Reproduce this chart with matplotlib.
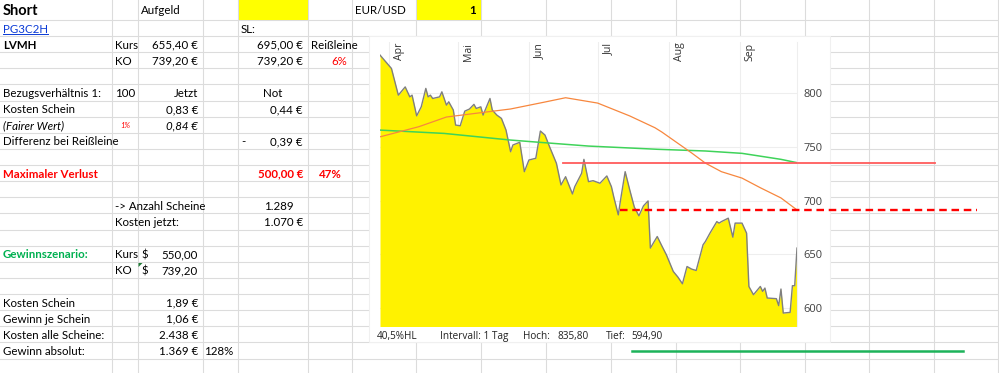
import numpy as np
import matplotlib.pyplot as plt
from matplotlib.patches import Rectangle, Polygon

# ---- chart data (LVMH daily, 2024), x = days counted from 1 April ----
day = [-4, 1, 4, 7, 9, 10, 12, 14, 16, 17,
       18, 19, 22, 23, 25, 26, 28, 29, 31, 33,
       35, 37, 38, 40, 41, 44, 45, 47, 49, 51,
       53, 54, 57, 59, 61, 64, 66, 68, 70, 73,
       75, 77, 80, 81, 84, 85, 87, 89, 92, 95,
       97, 98, 100, 101, 103, 105, 107, 109, 111, 113,
       114, 117, 119, 121, 124, 126, 128, 130, 132, 134,
       137, 138, 140, 143, 144, 145, 148, 150, 151, 154,
       156, 157, 159, 162, 163, 164, 165, 169, 170, 171,
       172, 175, 176, 177, 178]
close = [835.8, 823.3, 798.4, 806.1, 796.8, 798.4, 779.1, 787.5, 804.7, 796.8,
         798.4, 795.3, 796.8, 801.5, 789.1, 792.2, 784.5, 770.5, 769.8, 783.5,
         785.4, 789.8, 786.0, 787.5, 779.8, 795.3, 784.5, 779.8, 776.7, 765.8,
         745.6, 751.9, 754.4, 727.0, 737.9, 739.5, 764.9, 761.2, 750.3, 734.8,
         714.6, 722.3, 706.2, 713.0, 725.5, 738.5, 717.7, 718.6, 716.2, 723.0,
         713.0, 703.7, 686.7, 700.7, 727.0, 710.0, 693.9, 685.8, 695.1, 699.7,
         655.7, 666.5, 657.8, 649.4, 633.9, 628.7, 622.4, 638.5, 636.1, 634.8,
         658.8, 661.8, 669.6, 680.4, 679.0, 680.4, 683.6, 665.9, 679.0, 679.0,
         669.6, 619.9, 612.2, 619.9, 615.3, 618.4, 609.1, 608.5, 602.0, 617.5,
         595.1, 595.7, 620.6, 620.6, 655.7]

avg_a_day = [-4, 13, 25, 38, 53, 68, 77, 91, 105, 116, 119, 132, 138, 145, 154, 162, 171, 178]
avg_a = [759.5, 769.0, 778.0, 781.5, 785.5, 792.0, 796.0, 791.0, 779.0, 768.0,
         764.0, 744.5, 735.0, 727.0, 721.0, 712.0, 702.5, 691.3]

avg_b_day = [-4, 24, 53, 68, 87, 117, 138, 154, 171, 178]
avg_b = [765.8, 762.7, 756.5, 754.0, 750.9, 747.9, 746.3, 744.1, 738.5, 735.4]

months = ['Apr', 'Mai', 'Jun', 'Jul', 'Aug', 'Sep']
month_start = ['2024-04-01', '2024-05-01', '2024-06-01', '2024-07-01', '2024-08-01', '2024-09-01']
yticks = [600, 650, 700, 750, 800]

ko_level = 735      # red line drawn over the chart
sl_level = 691      # red dashed line (stop loss)
target_level = 560  # green line below the chart

footer = ['40,5%HL', 'Intervall: 1 Tag', 'Hoch:', '835,80', 'Tief:', '594,90']

# ---- spreadsheet cells: (row, column, text, align, style) ----
cells = [
    (0, 'A', 'Short', 'l', 'title'),
    (0, 'C', 'Aufgeld', 'l', ''),
    (0, 'G', 'EUR/USD', 'l', ''),
    (0, 'H', '1', 'r', 'bold'),
    (1, 'A', 'PG3C2H', 'l', 'link'),
    (1, 'E', 'SL:', 'l', ''),
    (2, 'A', 'LVMH', 'l', 'bold'),
    (2, 'B', 'Kurs', 'l', ''),
    (2, 'C', '655,40 €', 'r', ''),
    (2, 'E', '695,00 €', 'r', ''),
    (2, 'F', 'Reißleine', 'l', ''),
    (3, 'B', 'KO', 'l', ''),
    (3, 'C', '739,20 €', 'r', ''),
    (3, 'E', '739,20 €', 'r', ''),
    (3, 'F', '6%', 'r', 'red'),
    (5, 'A', 'Bezugsverhältnis 1:', 'l', ''),
    (5, 'B', '100', 'l', ''),
    (5, 'C', 'Jetzt', 'r', ''),
    (5, 'E', 'Not', 'c', ''),
    (6, 'A', 'Kosten Schein', 'l', ''),
    (6, 'C', '0,83 €', 'r', ''),
    (6, 'E', '0,44 €', 'r', ''),
    (7, 'A', '(Fairer Wert)', 'l', 'italic'),
    (7, 'B', '1%', 'c', 'small'),
    (7, 'C', '0,84 €', 'r', 'italic'),
    (8, 'A', 'Differenz bei Reißleine', 'l', ''),
    (8, 'E', '-', 'l', ''),
    (8, 'E', '0,39 €', 'r', ''),
    (10, 'A', 'Maximaler Verlust', 'l', 'redbold'),
    (10, 'E', '500,00 €', 'r', 'redbold'),
    (10, 'F', '47%', 'c', 'redbold'),
    (12, 'B', '-> Anzahl Scheine', 'l', ''),
    (12, 'E', '1.289', 'r2', ''),
    (13, 'B', 'Kosten jetzt:', 'l', ''),
    (13, 'E', '1.070 €', 'r', ''),
    (15, 'A', 'Gewinnszenario:', 'l', 'green'),
    (15, 'B', 'Kurs', 'l', ''),
    (15, 'C', '$', 'l', ''),
    (15, 'C', '550,00', 'r', ''),
    (16, 'B', 'KO', 'l', ''),
    (16, 'C', '$', 'l', ''),
    (16, 'C', '739,20', 'r', ''),
    (18, 'A', 'Kosten Schein', 'l', ''),
    (18, 'C', '1,89 €', 'r', ''),
    (19, 'A', 'Gewinn je Schein', 'l', ''),
    (19, 'C', '1,06 €', 'r', ''),
    (20, 'A', 'Kosten alle Scheine:', 'l', ''),
    (20, 'C', '2.438 €', 'r', ''),
    (21, 'A', 'Gewinn absolut:', 'l', ''),
    (21, 'C', '1.369 €', 'r', ''),
    (21, 'D', '128%', 'r', ''),
]

# ---- layout in pixels ----
W, H = 999, 373
col_edges = [0, 112, 138, 203, 238, 308, 352, 416, 481, 546, 611, 676, 740, 805, 869, 934, 998]
col_names = 'ABCDEFGHIJKLMNOP'
row_h = 16.12
row_top = [0] + [20 + row_h * j for j in range(22)]

fig = plt.figure(figsize=(W / 100, H / 100), dpi=100)
bg = fig.add_axes([0, 0, 1, 1])
bg.set_xlim(0, W)
bg.set_ylim(H, 0)
bg.axis('off')

gridc = '#dcdcdc'
for x in col_edges[1:]:
    bg.plot([x, x], [0, H], color=gridc, lw=0.8, zorder=1)
for y in row_top[1:]:
    bg.plot([0, W], [y, y], color=gridc, lw=0.8, zorder=1)

# yellow cells
for c in ['E', 'H']:
    i = col_names.index(c)
    bg.add_patch(Rectangle((col_edges[i] + 0.5, 0), col_edges[i + 1] - col_edges[i] - 1, 19.5,
                           facecolor='#ffff00', edgecolor='none', zorder=2))

# comment marker in C16
bg.add_patch(Polygon([[138.5, 263], [142.5, 263], [138.5, 267]], closed=True,
                     facecolor='#1f7a36', edgecolor='none', zorder=2))

# chart object background
bg.add_patch(Rectangle((369, 35.5), 461, 306.5, facecolor='white', edgecolor='#f0f0f0',
                       lw=0.8, zorder=3))

font = 'Lato'
styles = {
    '': dict(),
    'title': dict(fontsize=10.5, fontweight='bold'),
    'bold': dict(fontweight='bold'),
    'link': dict(color='#0b3bd6'),
    'red': dict(color='#ff0000'),
    'redbold': dict(color='#ff0000', fontweight='bold'),
    'green': dict(color='#00b050', fontweight='bold'),
    'italic': dict(style='italic'),
    'small': dict(color='#ff0000', style='italic', fontsize=5.5),
}

link_text = None
for row, col, text, align, st in cells:
    i = col_names.index(col)
    x0, x1 = col_edges[i], col_edges[i + 1]
    yc = (row_top[row] + row_top[row + 1]) / 2 + 1
    kw = dict(fontsize=8.3, color='black', family=font)
    kw.update(styles[st])
    if align == 'l':
        t = bg.text(x0 + 3, yc, text, ha='left', va='center', zorder=4, **kw)
    elif align == 'r':
        t = bg.text(x1 - 5, yc, text, ha='right', va='center', zorder=4, **kw)
    elif align == 'r2':
        t = bg.text(x1 - 14, yc, text, ha='right', va='center', zorder=4, **kw)
    else:
        t = bg.text((x0 + x1) / 2, yc, text, ha='center', va='center', zorder=4, **kw)
    if st == 'link':
        link_text = t

# ---- price chart ----
left, right, top, bottom = 380, 797, 42, 326
ax = fig.add_axes([left / W, 1 - bottom / H, (right - left) / W, (bottom - top) / H])
start = np.datetime64('2024-04-01')
dates = start + np.array(day)
dates_a = start + np.array(avg_a_day)
dates_b = start + np.array(avg_b_day)
mdates_ticks = np.array(month_start, dtype='datetime64[D]')

ax.fill_between(dates, close, 500, color='#fff200', lw=0, zorder=2)
ax.plot(dates, close, color='#7f7f7f', lw=1.0, zorder=3)
ax.plot(dates_b, avg_b, color='#3fd35a', lw=1.1, zorder=4)
ax.plot(dates_a, avg_a, color='#f7873e', lw=0.9, zorder=4)

ax.set_xlim(dates[0], dates[-1])
ax.set_ylim(583, 848)
ax.set_xticks(mdates_ticks)
ax.set_yticks(yticks)
ax.tick_params(axis='x', length=0, labelbottom=False)
ax.yaxis.tick_right()
ax.tick_params(axis='y', length=0, pad=4.5, labelsize=8, labelcolor='#404040')
for lab in ax.get_yticklabels():
    lab.set_family('Open Sans')
ax.grid(True, color='#eeeeee', lw=0.8, zorder=1)
ax.set_axisbelow(True)
for s in ax.spines.values():
    s.set_visible(False)
ax.spines['right'].set_visible(True)
ax.spines['right'].set_color('#eeeeee')

for m, lab in zip(mdates_ticks, months):
    ax.annotate(lab, xy=(m, 1), xycoords=('data', 'axes fraction'), xytext=(3.5, -0.5),
                textcoords='offset points', rotation=90, ha='left', va='top',
                fontsize=7.6, family='Open Sans', color='#333333', zorder=5)

# drawn lines over the chart (extend into the sheet)
ax.axhline(ko_level, xmin=0.439, xmax=1.331, color='#ff5c5c', lw=1.3, clip_on=False, zorder=6)
ax.axhline(sl_level, xmin=0.576, xmax=1.432, color='#ff0000', lw=1.7,
           dashes=(3.2, 2.0), clip_on=False, zorder=6)
ax.axhline(target_level, xmin=0.604, xmax=1.398, color='#1db35a', lw=1.8, clip_on=False, zorder=6)

# chart footer
footer_x = [377, 440, 523, 557, 606, 631]
for x, txt in zip(footer_x, footer):
    bg.text(x, 336.5, txt, ha='left', va='center', fontsize=7.2, family='Open Sans',
            color='#222222', zorder=5)

# underline for the hyperlink
fig.canvas.draw()
bb = link_text.get_window_extent()
inv = bg.transData.inverted()
(ux0, uy0), (ux1, _) = inv.transform([[bb.x0, bb.y0], [bb.x1, bb.y0]])
bg.plot([ux0, ux1], [uy0 - 0.5, uy0 - 0.5], color='#0b3bd6', lw=0.7, zorder=4)

fig.savefig('out.png', dpi=100)
